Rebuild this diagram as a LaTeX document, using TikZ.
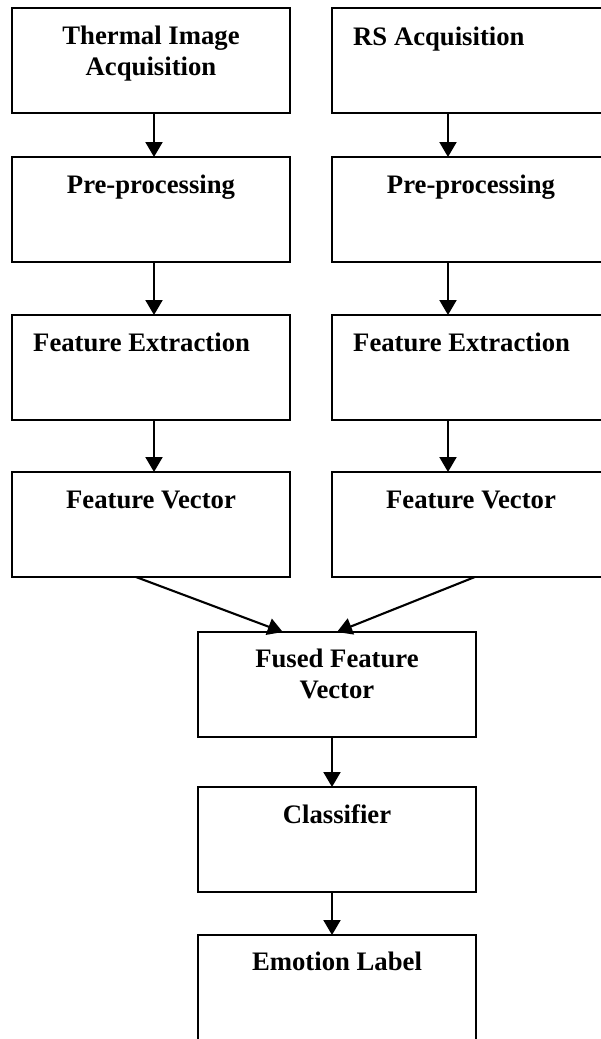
\documentclass[tikz,border=0pt]{standalone}
\usepackage{fontspec}
\setmainfont{Liberation Serif}
\usetikzlibrary{arrows.meta,calc}
\begin{document}
\begin{tikzpicture}[x=1pt,y=-1pt,
  box/.style={draw,line width=2.1pt,minimum width=278pt,minimum height=105pt,inner sep=0pt,outer sep=0pt,anchor=north west},
  lbl/.style={font=\bfseries\fontsize{26.7}{31}\selectfont,inner sep=0pt,anchor=base,align=center},
  arr/.style={line width=2.1pt,-{Triangle[length=15pt,width=17pt]}}]
\clip (0,0) rectangle (601,1039);
\fill[white] (0,0) rectangle (601,1039);
% left column
\node[box] (l1) at (12,8) {};
\node[box] (l2) at (12,157) {};
\node[box] (l3) at (12,315) {};
\node[box] (l4) at (12,472) {};
% right column
\node[box] (r1) at (332,8) {};
\node[box] (r2) at (332,157) {};
\node[box] (r3) at (332,315) {};
\node[box] (r4) at (332,472) {};
% center column
\node[box] (f) at (198,632) {};
\node[box] (c) at (198,787) {};
\node[box] (e) at (198,935) {};
% labels (base anchor of a multi-line node = last line)
\node[lbl] (tl1) at (151,75) {Thermal Image\\Acquisition};
\node[lbl] (tl2) at (151,193) {Pre-processing};
\node[lbl,anchor=base west] (tl3) at (33,351) {Feature Extraction};
\node[lbl] (tl4) at (151,508) {Feature Vector};
\node[lbl,anchor=base west] (tr1) at (353,45) {RS Acquisition};
\node[lbl] (tr2) at (471,193) {Pre-processing};
\node[lbl,anchor=base west] (tr3) at (353,351) {Feature Extraction};
\node[lbl] (tr4) at (471,508) {Feature Vector};
\node[lbl] (tf) at (337,698) {Fused Feature\\Vector};
\node[lbl] (tc) at (337,823) {Classifier};
\node[lbl] (te) at (337,970) {Emotion Label};
% arrows
\draw[arr] ([xshift=3pt]l1.south) -- ([xshift=3pt]l2.north);
\draw[arr] ([xshift=3pt]l2.south) -- ([xshift=3pt]l3.north);
\draw[arr] ([xshift=3pt]l3.south) -- ([xshift=3pt]l4.north);
\draw[arr] ([xshift=-23pt]r1.south) -- ([xshift=-23pt]r2.north);
\draw[arr] ([xshift=-23pt]r2.south) -- ([xshift=-23pt]r3.north);
\draw[arr] ([xshift=-23pt]r3.south) -- ([xshift=-23pt]r4.north);
\draw[arr] ($(l4.south west)!0.446!(l4.south east)$) -- ($(f.north west)!0.305!(f.north east)$);
\draw[arr] ($(r4.south west)!0.514!(r4.south east)$) -- ($(f.north west)!0.5!(f.north east)$);
\draw[arr] ([xshift=-5pt]f.south) -- ([xshift=-5pt]c.north);
\draw[arr] ([xshift=-5pt]c.south) -- ([xshift=-5pt]e.north);
\end{tikzpicture}
\end{document}
